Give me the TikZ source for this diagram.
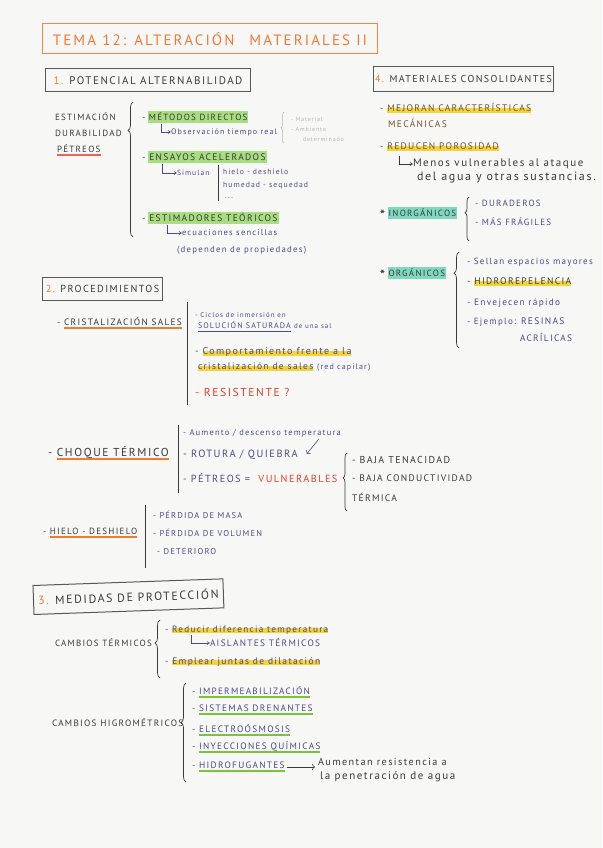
\documentclass[tikz,border=0pt]{standalone}
\usepackage{fontspec}
\setmainfont{PT Sans}
\newfontfamily\hand[LetterSpace=14]{PT Sans}
\usetikzlibrary{decorations.pathreplacing,arrows.meta}

\definecolor{papel}{HTML}{F7F7F5}
\definecolor{tinta}{HTML}{3A3A3A}
\definecolor{azul}{HTML}{4A4A8C}
\definecolor{marron}{HTML}{6E5530}
\definecolor{naranja}{HTML}{F07A3A}
\definecolor{rojo}{HTML}{E0402A}
\definecolor{hlverde}{HTML}{A8DD82}
\definecolor{hlamarillo}{HTML}{F5D33A}
\definecolor{hlturq}{HTML}{80D8C0}
\definecolor{subverde}{HTML}{78C43A}
\definecolor{gris}{HTML}{B5B5B5}

\newcommand\tam[1]{\fontsize{#1}{#1}\selectfont}
\newcommand\fluor[2]{\setbox0\hbox{#2}\hspace{-1pt}\rlap{\color{#1}\rule[-2.5pt]{\dimexpr\wd0+2pt}{\dimexpr\ht0+4.5pt}}\hspace{1pt}\box0\relax}
\newcommand\raya[2]{\setbox0\hbox{#2}\rlap{\color{#1}\rule[-1pt]{\wd0}{5pt}}\box0\relax}
\newcommand\subr[2]{\setbox0\hbox{#2}\rlap{\color{#1}\rule[-3.5pt]{\wd0}{1.6pt}}\box0\relax}
\newcommand\estrella{\raisebox{-3pt}{\tam{13}\bfseries *}}

\tikzset{
  txt/.style={anchor=west, inner sep=0pt, outer sep=0pt, text=tinta, font=\hand\tam{9}},
  chico/.style={font=\hand\tam{7.5}},
  grande/.style={font=\hand\tam{10}},
  caja/.style={draw=tinta!85, line width=1pt, anchor=west, inner sep=0pt, text=tinta},
  llave/.style={decorate, tinta, line width=0.7pt},
  gancho/.style={-{Straight Barb[length=2.5pt,width=3pt]}, line width=0.6pt},
  barra/.style={tinta, line width=0.8pt},
}

\begin{document}
\begin{tikzpicture}[x=1pt,y=-1pt]
  \fill[papel] (0,0) rectangle (602,848);
  \useasboundingbox (0,0) rectangle (602,848);

  % titulo
  \node[caja, draw=naranja!90, text=naranja, font=\hand\tam{15}, minimum width=335, minimum height=30]
    (titulo) at (42,39) {TEMA 12: ALTERACIÓN\quad MATERIALES II};

  % 1. potencial alternabilidad
  \node[caja, minimum width=205, minimum height=23, font=\hand\tam{11}]
    (s1) at (45,80.5) {{\color{naranja}1.} POTENCIAL ALTERNABILIDAD};
  \node[txt] (est) at (55,117) {ESTIMACIÓN};
  \node[txt] (dur) at (55,133) {DURABILIDAD};
  \node[txt] (pet) at (57,150) {\subr{rojo!80}{PÉTREOS}};
  \coordinate (l1a) at (133,237);
  \coordinate (l1b) at (133,102);
  \draw[llave, decoration={brace, amplitude=5pt, aspect=0.79}] (l1a) -- (l1b);

  \node[txt] (mdir) at (142,117) {- \fluor{hlverde}{MÉTODOS DIRECTOS}};
  \coordinate (g1) at (161,124);
  \node[txt, text=azul, font=\hand\tam{8}] (obs) at (171,132) {Observación tiempo real};
  \draw[gancho, azul] (g1) |- (obs.west);
  \coordinate (l2a) at (284,143);
  \coordinate (l2b) at (284,112);
  \draw[llave, gris, line width=0.5pt, decoration={brace, amplitude=3pt}] (l2a) -- (l2b);
  \node[txt, text=gris, font=\hand\tam{6}] (mat) at (291,119) {- Material};
  \node[txt, text=gris, font=\hand\tam{6}] (amb) at (291,129) {- Ambiente};
  \node[txt, text=gris, font=\hand\tam{6}] (deter) at (303,139) {determinado};

  \node[txt, font=\hand\tam{9.5}] (ens) at (142,157) {- \fluor{hlverde}{ENSAYOS ACELERADOS}};
  \coordinate (g2) at (162,164);
  \node[txt, chico, text=azul] (sim) at (177,173) {Simulan};
  \draw[gancho, azul] (g2) |- (sim.west);
  \coordinate (b1a) at (218,165);
  \coordinate (b1b) at (218,201);
  \draw[barra] (b1a) -- (b1b);
  \node[txt, text=azul, font=\hand\tam{7.7}] (hiel) at (223,172) {hielo - deshielo};
  \node[txt, text=azul, font=\hand\tam{7.7}] (hum) at (223,186) {humedad - sequedad};
  \node[txt, chico, text=azul] (pts) at (225,198) {...};

  \node[txt, font=\hand\tam{9.5}] (estim) at (142,218) {- \fluor{hlverde}{ESTIMADORES TEÓRICOS}};
  \coordinate (g3) at (167,225);
  \node[txt, text=azul, font=\hand\tam{8.5}] (ecu) at (182,233) {ecuaciones sencillas};
  \draw[gancho, azul] (g3) |- (ecu.west);
  \node[txt, text=azul, font=\hand\tam{8.8}] (dep) at (177,250) {(dependen de propiedades)};

  % 4. materiales consolidantes
  \node[caja, minimum width=180, minimum height=25, font=\hand\tam{10}]
    (s4) at (373,79.5) {{\color{naranja}4.} MATERIALES CONSOLIDANTES};
  \node[txt, text=marron, font=\hand\tam{9.5}] (mej) at (380,108) {- \raya{hlamarillo}{MEJORAN CARACTERÍSTICAS}};
  \node[txt, text=marron, font=\hand\tam{9.5}] (mec) at (388,123) {MECÁNICAS};
  \node[txt, text=marron, font=\hand\tam{9.5}] (redu) at (380,147) {- \raya{hlamarillo}{REDUCEN POROSIDAD}};
  \coordinate (g4) at (399,156);
  \node[txt, font=\hand\tam{11}] (men) at (413,164) {Menos vulnerables al ataque};
  \draw[gancho, tinta] (g4) |- (men.west);
  \node[txt, font=\hand\tam{12}] (del) at (417,178) {del agua y otras sustancias.};

  \node[txt] (inor) at (380,213) {\estrella\ \fluor{hlturq}{INORGÁNICOS}};
  \coordinate (l4a) at (469,241);
  \coordinate (l4b) at (469,197);
  \draw[llave, decoration={brace, amplitude=4pt, aspect=0.64}] (l4a) -- (l4b);
  \node[txt, text=azul] (dura) at (475,203) {- DURADEROS};
  \node[txt, text=azul] (fra) at (475,222) {- MÁS FRÁGILES};

  \node[txt] (org) at (380,273) {\estrella\ \fluor{hlturq}{ORGÁNICOS}};
  \coordinate (l5a) at (459,348);
  \coordinate (l5b) at (459,252);
  \draw[llave, decoration={brace, amplitude=5pt, aspect=0.78}] (l5a) -- (l5b);
  \node[txt, text=azul] (sel) at (467,262) {- Sellan espacios mayores};
  \node[txt, font=\hand\tam{9.5}] (hidr) at (467,282) {- \raya{hlamarillo}{HIDROREPELENCIA}};
  \node[txt, text=azul, font=\hand\tam{9.3}] (env) at (467,303) {- Envejecen rápido};
  \node[txt, text=azul] (ejem) at (467,322) {- Ejemplo: {\tam{9.5}RESINAS}};
  \node[txt, text=azul, font=\hand\tam{9.3}] (acr) at (520,338) {ACRÍLICAS};

  % 2. procedimientos
  \node[caja, minimum width=120, minimum height=23, font=\hand\tam{10.2}]
    (s2) at (42,288.5) {{\color{naranja}2.} PROCEDIMIENTOS};
  \node[txt, font=\hand\tam{9.3}] (cris) at (57,323) {- \subr{naranja}{CRISTALIZACIÓN SALES}};
  \coordinate (v2a) at (187,302);
  \coordinate (v2b) at (187,405);
  \draw[barra] (v2a) -- (v2b);
  \node[txt, text=azul, font=\hand\tam{7}] (cic) at (195,315) {- Ciclos de inmersión en};
  \node[txt, text=azul, font=\hand\tam{8}] (sol) at (198,327) {\subr{azul}{SOLUCIÓN SATURADA} {\tam{7}de una sal}};
  \node[txt, text=azul, font=\hand\tam{10}] (comp) at (195,352) {- \raya{hlamarillo}{Comportamiento frente a la}};
  \node[txt, text=azul, font=\hand\tam{9.5}] (cris2) at (198,367) {\raya{hlamarillo}{cristalización de sales} {\tam{8}(red capilar)}};
  \node[txt, text=rojo, font=\hand\tam{11.5}] (resi) at (195,392) {- RESISTENTE ?};

  \node[txt, font=\hand\tam{11.5}] (choq) at (48,453) {- \subr{naranja}{CHOQUE TÉRMICO}};
  \coordinate (v3a) at (178,425);
  \coordinate (v3b) at (178,493);
  \draw[barra] (v3a) -- (v3b);
  \node[txt, text=azul, font=\hand\tam{8.5}] (aum) at (183,433) {- Aumento / descenso temperatura};
  \node[txt, text=azul, font=\hand\tam{10.5}] (rot) at (183,455) {- ROTURA / QUIEBRA};
  \draw[->, azul, line width=0.6pt] ([xshift=-22pt,yshift=-6pt]aum.east) -- ([xshift=9pt,yshift=1pt]rot.east);
  \node[txt, text=azul, font=\hand\tam{10.3}] (pet2) at (183,478) {- PÉTREOS = \ {\color{rojo}VULNERABLES}};
  \coordinate (l6a) at (347,511);
  \coordinate (l6b) at (347,453);
  \draw[llave, decoration={brace, amplitude=4pt, aspect=0.57}] (l6a) -- (l6b);
  \node[txt, grande] (baj) at (352,460) {- BAJA TENACIDAD};
  \node[txt, font=\hand\tam{9.5}] (baj2) at (352,478) {- BAJA CONDUCTIVIDAD};
  \node[txt, font=\hand\tam{9.5}] (ter) at (352,497) {TÉRMICA};

  \node[txt] (hdes) at (43,533) {- \subr{naranja}{HIELO - DESHIELO}};
  \coordinate (v4a) at (145,505);
  \coordinate (v4b) at (145,568);
  \draw[barra] (v4a) -- (v4b);
  \node[txt, text=azul, font=\hand\tam{8.5}] (pm) at (153,515) {- PÉRDIDA DE MASA};
  \node[txt, text=azul, font=\hand\tam{8.5}] (pv) at (153,533) {- PÉRDIDA DE VOLUMEN};
  \node[txt, text=azul, font=\hand\tam{8.5}] (det) at (157,552) {- DETERIORO};

  % 3. medidas de proteccion
  \node[caja, minimum width=190, minimum height=29, font=\hand\tam{11.8}, rotate=2]
    (s3) at (33,600) {{\color{naranja}3.} MEDIDAS DE PROTECCIÓN};
  \node[txt] (ct) at (55,643) {CAMBIOS TÉRMICOS};
  \coordinate (l7a) at (160,678);
  \coordinate (l7b) at (160,620);
  \draw[llave, decoration={brace, amplitude=5pt, aspect=0.6}] (l7a) -- (l7b);
  \node[txt, text=azul, font=\hand\tam{9.2}] (redt) at (165,630) {- \raya{hlamarillo}{Reducir diferencia temperatura}};
  \coordinate (g5) at (191,635);
  \node[txt, text=azul, font=\hand\tam{9.3}] (ais) at (210,643) {AISLANTES TÉRMICOS};
  \draw[gancho, azul] (g5) |- (ais.west);
  \node[txt, text=azul, font=\hand\tam{9.5}] (emp) at (165,662) {- \raya{hlamarillo}{Emplear juntas de dilatación}};

  \node[txt, font=\hand\tam{9.2}] (chig) at (52,723) {CAMBIOS HIGROMÉTRICOS};
  \coordinate (l8a) at (186,782);
  \coordinate (l8b) at (186,683);
  \draw[llave, decoration={brace, amplitude=5pt, aspect=0.6}] (l8a) -- (l8b);
  \node[txt, text=azul, font=\hand\tam{9.2}] (imp) at (192,692) {- \subr{subverde}{IMPERMEABILIZACIÓN}};
  \node[txt, text=azul, font=\hand\tam{9.3}] (sis) at (192,710) {- \subr{subverde}{SISTEMAS DRENANTES}};
  \node[txt, text=azul, font=\hand\tam{9.3}] (ele) at (192,730) {- \subr{subverde}{ELECTROÓSMOSIS}};
  \node[txt, text=azul, font=\hand\tam{9.3}] (iny) at (192,747) {- \subr{subverde}{INYECCIONES QUÍMICAS}};
  \node[txt, text=azul, font=\hand\tam{9.3}] (hidf) at (192,767) {- \subr{subverde}{HIDROFUGANTES}};
  \node[txt, font=\hand\tam{10.2}] (aumr) at (318,762) {Aumentan resistencia a};
  \node[txt, font=\hand\tam{11}] (pen) at (320,777) {la penetración de agua};
  \draw[->, tinta, line width=0.6pt] ([xshift=2pt]hidf.east) -- ([xshift=-3pt]hidf.east -| aumr.west);
\end{tikzpicture}
\end{document}
